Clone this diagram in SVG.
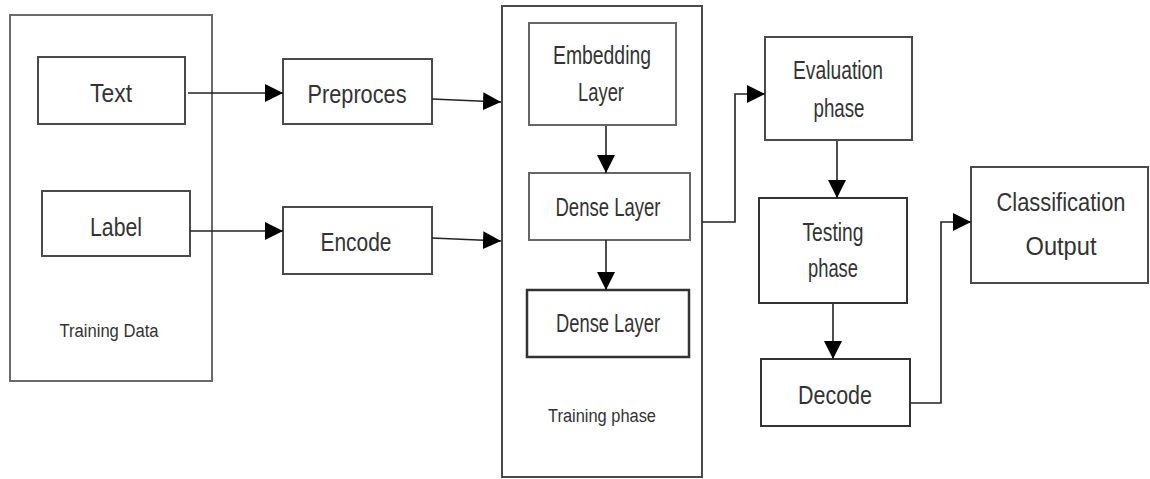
<svg xmlns="http://www.w3.org/2000/svg" width="1150" height="479" viewBox="0 0 1150 479">
<style>
.box{fill:#fff;stroke:#4a4a4a;stroke-width:2}
.outer{fill:#fff;stroke:#6a6a6a;stroke-width:2}
.lbl{font-family:"Liberation Sans",Arial,sans-serif;font-size:26px;fill:#333;text-anchor:middle}
.sm{font-family:"Liberation Sans",Arial,sans-serif;font-size:18px;fill:#333;text-anchor:middle}
.con{fill:none;stroke:#222;stroke-width:1.6}
</style>
<defs>
<marker id="ah" markerUnits="userSpaceOnUse" markerWidth="19" markerHeight="19" refX="18" refY="9" orient="auto">
<path d="M0,0 L18,9 L0,18 z" fill="#000"/>
</marker>
</defs>
<rect width="1150" height="479" fill="#fff"/>
<g id="training-data">
<rect class="outer" x="10" y="15" width="202" height="366"/>
<text class="sm" x="109" y="337" textLength="99" lengthAdjust="spacingAndGlyphs">Training Data</text>
</g>
<g id="text">
<rect class="box" x="38" y="57" width="147" height="67"/>
<text class="lbl" x="111" y="102" textLength="42" lengthAdjust="spacingAndGlyphs">Text</text>
</g>
<g id="label">
<rect class="box" x="42" y="191" width="148" height="65"/>
<text class="lbl" x="116" y="236" textLength="52" lengthAdjust="spacingAndGlyphs">Label</text>
</g>
<g id="preproces">
<rect class="box" x="283" y="59" width="149" height="65"/>
<text class="lbl" x="357" y="103" textLength="99" lengthAdjust="spacingAndGlyphs">Preproces</text>
</g>
<g id="encode">
<rect class="box" x="283" y="207" width="149" height="67"/>
<text class="lbl" x="356" y="251" textLength="71" lengthAdjust="spacingAndGlyphs">Encode</text>
</g>
<g id="training-phase">
<rect class="box" x="502" y="6" width="200" height="471"/>
<text class="sm" x="602" y="422" textLength="108" lengthAdjust="spacingAndGlyphs">Training phase</text>
</g>
<g id="embedding-layer">
<rect class="box" x="529" y="23" width="147" height="102" style="stroke:#666"/>
<text class="lbl" x="602" y="64" textLength="98" lengthAdjust="spacingAndGlyphs">Embedding</text>
<text class="lbl" x="601" y="101" textLength="46" lengthAdjust="spacingAndGlyphs">Layer</text>
</g>
<g id="dense-layer-1">
<rect class="box" x="529" y="173" width="161" height="67" style="stroke:#666"/>
<text class="lbl" x="608" y="216" textLength="105" lengthAdjust="spacingAndGlyphs">Dense Layer</text>
</g>
<g id="dense-layer-2">
<rect class="box" x="527" y="290" width="162" height="67" style="stroke:#333;stroke-width:2.5"/>
<text class="lbl" x="608" y="332" textLength="104" lengthAdjust="spacingAndGlyphs">Dense Layer</text>
</g>
<g id="evaluation-phase">
<rect class="box" x="765" y="37" width="147" height="103"/>
<text class="lbl" x="838" y="79" textLength="90" lengthAdjust="spacingAndGlyphs">Evaluation</text>
<text class="lbl" x="839" y="117" textLength="51" lengthAdjust="spacingAndGlyphs">phase</text>
</g>
<g id="testing-phase">
<rect class="box" x="759" y="198" width="148" height="105" style="stroke:#333"/>
<text class="lbl" x="833" y="241" textLength="61" lengthAdjust="spacingAndGlyphs">Testing</text>
<text class="lbl" x="833" y="277" textLength="50" lengthAdjust="spacingAndGlyphs">phase</text>
</g>
<g id="decode">
<rect class="box" x="761" y="359" width="149" height="67" style="stroke:#333"/>
<text class="lbl" x="835" y="404" textLength="74" lengthAdjust="spacingAndGlyphs">Decode</text>
</g>
<g id="classification-output">
<rect class="box" x="971" y="167" width="177" height="116"/>
<text class="lbl" x="1061" y="211" textLength="129" lengthAdjust="spacingAndGlyphs">Classification</text>
<text class="lbl" x="1061" y="255" textLength="71" lengthAdjust="spacingAndGlyphs">Output</text>
</g>
<g id="connectors">
<path class="con" d="M188,93 L283,93" marker-end="url(#ah)"/>
<path class="con" d="M432,99 L501,102" marker-end="url(#ah)"/>
<path class="con" d="M190,231 L283,231" marker-end="url(#ah)"/>
<path class="con" d="M432,238 L501,241" marker-end="url(#ah)"/>
<path class="con" d="M606,126 L606,173" marker-end="url(#ah)"/>
<path class="con" d="M606,240 L606,290" marker-end="url(#ah)"/>
<path class="con" d="M702,222 L735,222 L735,94 L765,94" marker-end="url(#ah)"/>
<path class="con" d="M837,141 L837,198" marker-end="url(#ah)"/>
<path class="con" d="M833,304 L833,359" marker-end="url(#ah)"/>
<path class="con" d="M910,403 L941,403 L941,222 L971,222" marker-end="url(#ah)"/>
</g>
</svg>
